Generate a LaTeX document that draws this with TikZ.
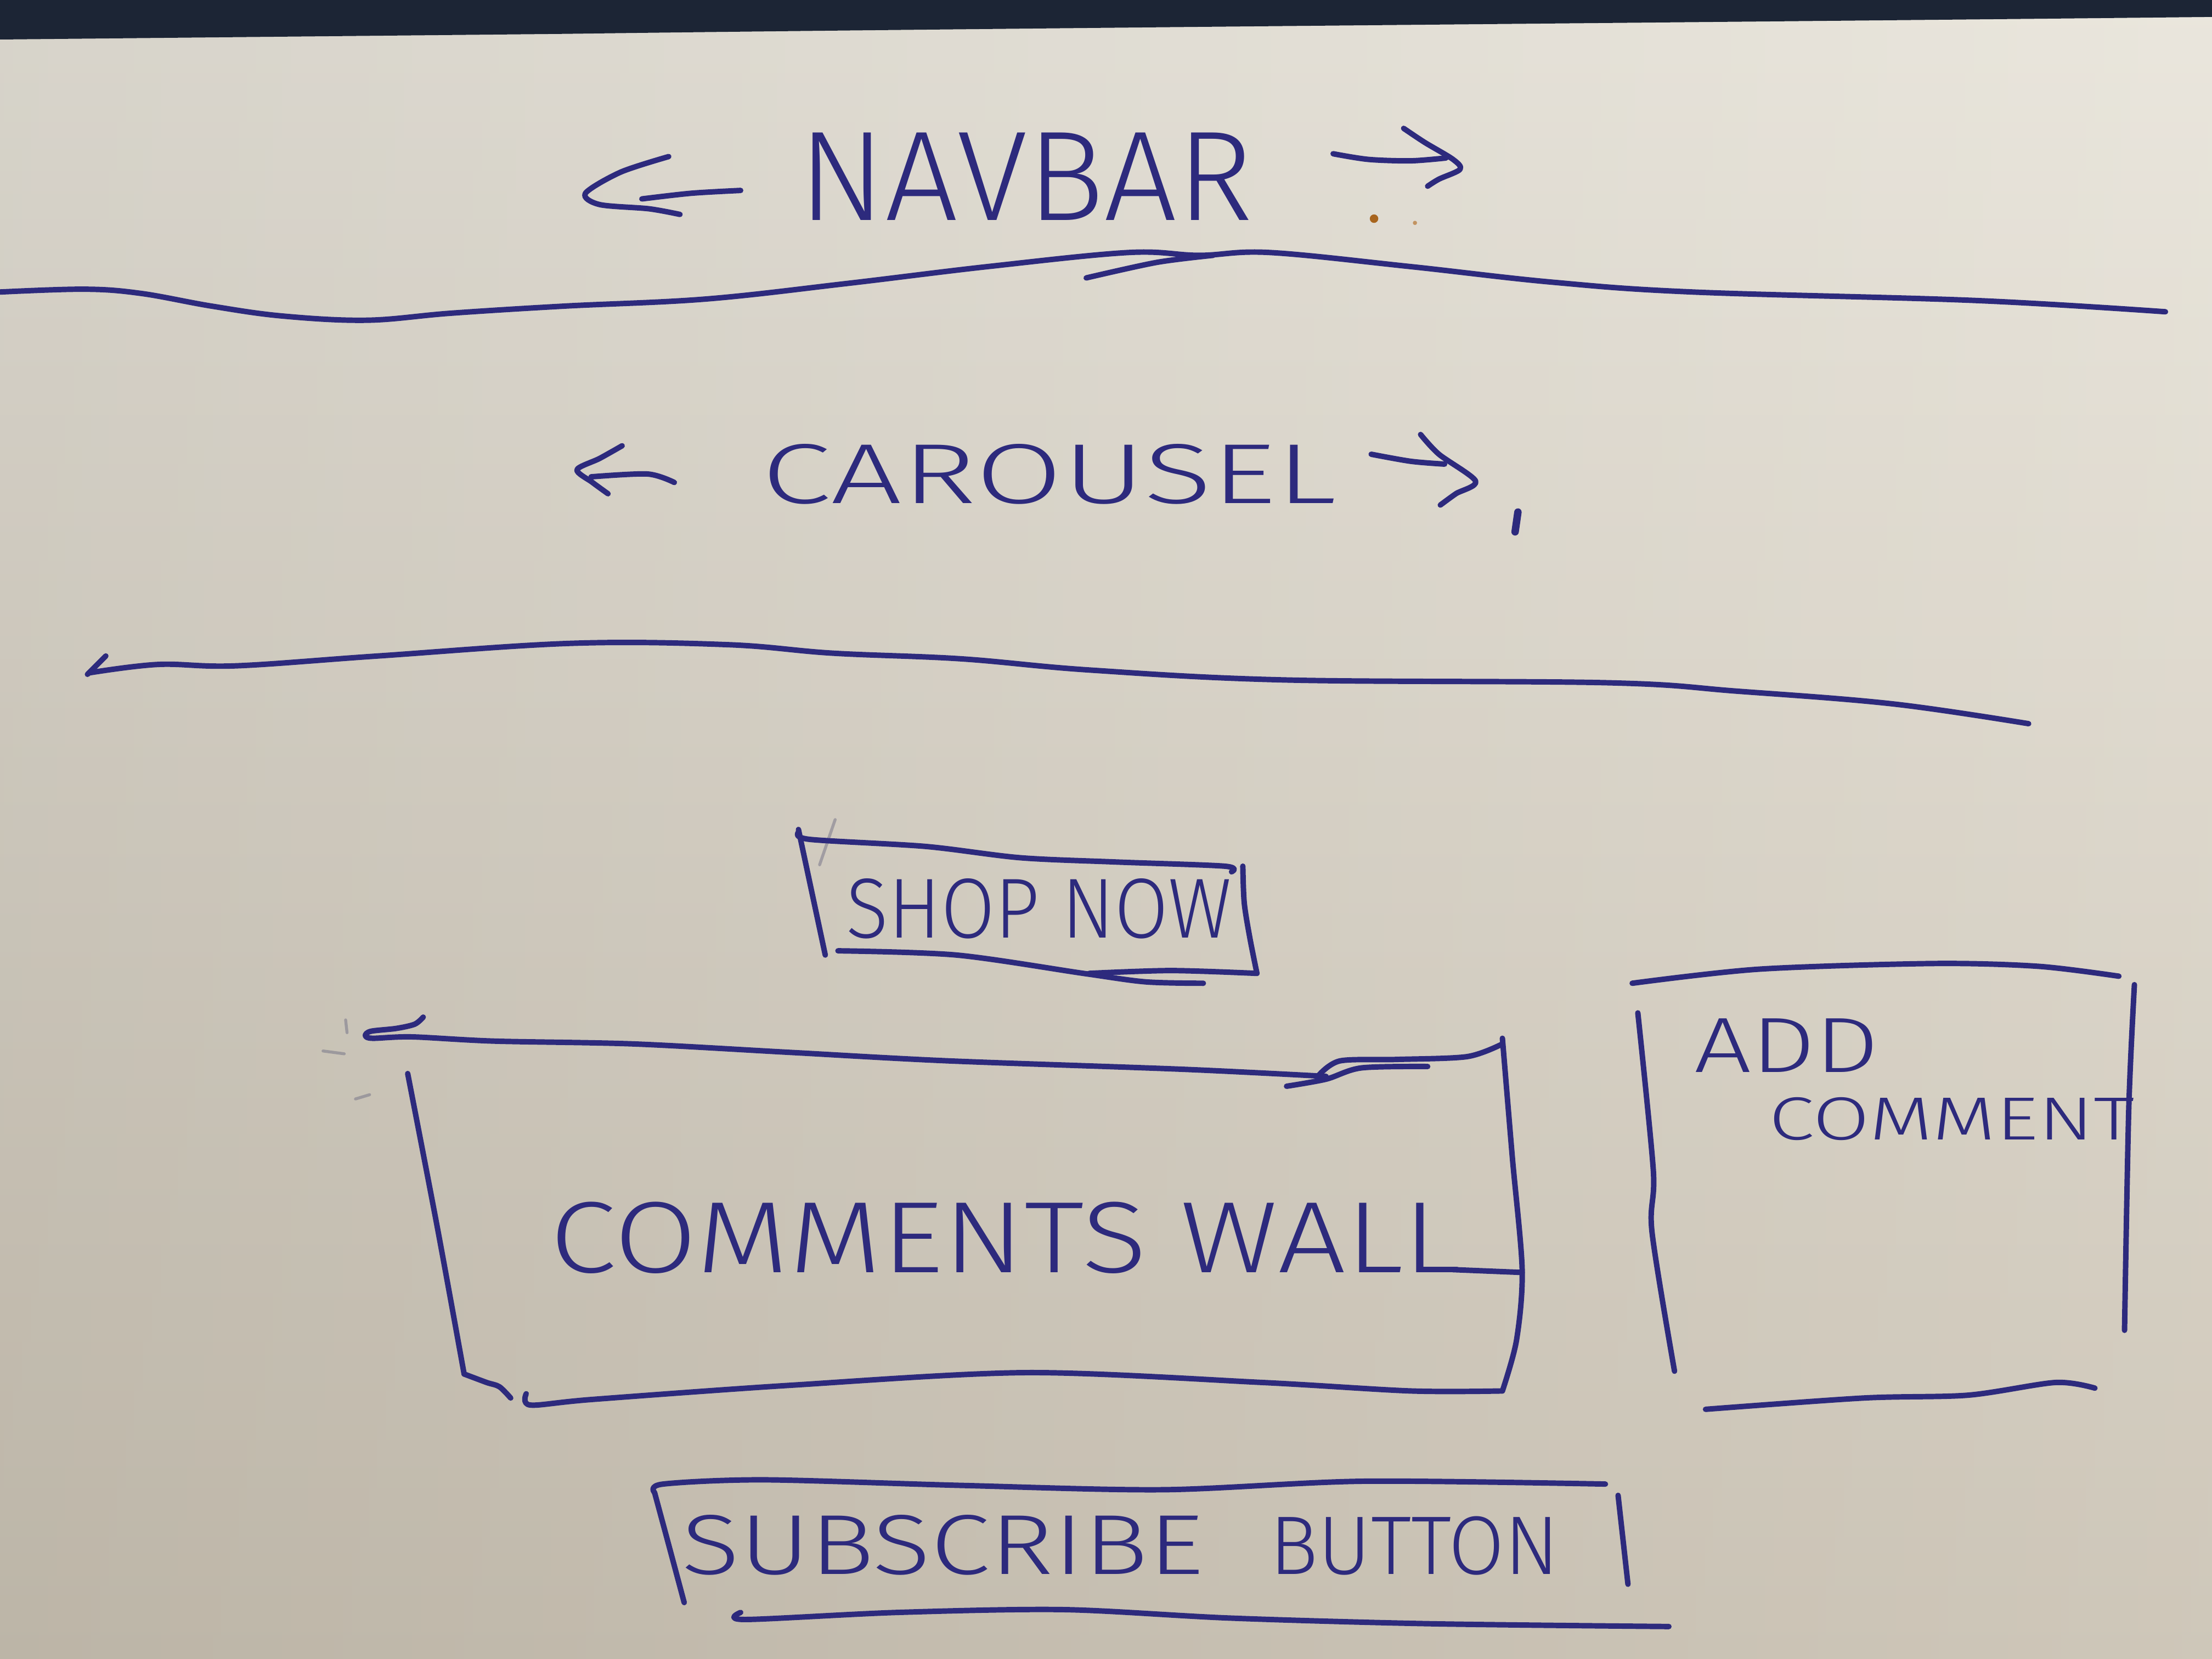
\documentclass[tikz,border=0pt]{standalone}
\usepackage{fontspec}
\setmainfont{Fira Sans Light}
\usepackage{graphicx}
\definecolor{inkc}{HTML}{2D2A7D}
\definecolor{papertop}{HTML}{E9E5DB}
\definecolor{papermid}{HTML}{DDD7CA}
\definecolor{paperbot}{HTML}{CBC3B4}
\definecolor{bandc}{HTML}{1C2535}
\definecolor{stainc}{HTML}{A8651E}
\newcommand\hw[3]{\resizebox{#1cm}{#2cm}{#3}}
\tikzset{
  ink/.style={draw=inkc, line width=1.1pt, line cap=round, line join=round},
  faint/.style={draw=gray!70!inkc, line width=0.6pt, line cap=round, opacity=0.45},
  lbl/.style={inner sep=0pt, outer sep=0pt, text=inkc, anchor=base west}
}
\begin{document}
\begin{tikzpicture}[x=0.01cm, y=-0.01cm]
\useasboundingbox (0,0) rectangle (1568,1176);
% paper
\begin{scope}[y=0.01cm]
\shade[top color=papertop, middle color=papermid, bottom color=paperbot] (0,0) rectangle (1568,-1176);
\shade[left color=black, right color=white, opacity=0.07] (0,0) rectangle (1568,-1176);
\end{scope}
% dark background band at the top
\fill[bandc] (0,0) -- (1568,0) -- (1568,12) .. controls (1200,16) and (700,20) .. (400,24) -- (0,28) -- cycle;
% stains
\fill[stainc] (974,155) circle (3);
\fill[stainc!70] (1003,158) circle (1.5);

% ---------- NAVBAR ----------
\node[lbl] (navbar) at (566,156) {\hw{3.22}{0.62}{NAVBAR}};
\draw[ink] plot[smooth] coordinates {(474,111) (440,122) (415,137) (425,145) (460,148) (482,152)};
\draw[ink] plot[smooth] coordinates {(455,141) (490,137) (525,135)};
\draw[ink] plot[smooth] coordinates {(945,109) (970,113) (1000,114) (1025,112)};
\draw[ink] plot[smooth] coordinates {(995,91) (1010,101) (1030,113) (1035,120) (1020,127) (1012,132)};
\draw[ink] plot[smooth, tension=0.6] coordinates {(0,207) (60,205) (100,208) (150,217) (200,224) (260,227) (320,222) (400,217) (500,212) (600,201) (700,189) (800,179) (850,181) (900,179) (1000,189) (1100,200) (1200,207) (1400,213) (1535,221)};
\draw[ink] plot[smooth] coordinates {(860,181) (820,186) (770,197)};

% ---------- CAROUSEL ----------
\node[lbl] (carousel) at (540,357) {\hw{4.07}{0.42}{CAROUSEL}};
\draw[ink] plot[smooth] coordinates {(441,316) (425,325) (409,333) (420,342) (431,350)};
\draw[ink] plot[smooth] coordinates {(419,338) (459,336) (478,342)};
\draw[ink] plot[smooth] coordinates {(972,322) (1000,327) (1024,329)};
\draw[ink] plot[smooth] coordinates {(1007,308) (1020,322) (1046,341) (1032,350) (1021,358)};
\draw[ink, line width=1.5pt] (1076,363) -- (1074,377);
\draw[ink] (62,478) -- (75,465);
\draw[ink] plot[smooth, tension=0.6] coordinates {(63,477) (112,471) (167,472) (268,465) (406,456) (516,457) (590,463) (681,467) (773,475) (911,482) (1140,484) (1232,490) (1342,499) (1438,513)};

% ---------- SHOP NOW ----------
\node[lbl] (shopnow) at (600,665) {\hw{2.73}{0.42}{SHOP NOW}};
\draw[faint] (592,581) -- (581,613);
\draw[ink] (566,588) -- (585,677);
\draw[ink] plot[smooth] coordinates {(566,590) (574,595) (656,600) (723,608) (790,611) (868,614) (873,618)};
\draw[ink] plot[smooth] coordinates {(881,614) (882,640) (886,665) (891,690)};
\draw[ink] plot[smooth] coordinates {(594,674) (678,677) (768,690) (812,696) (853,697)};
\draw[ink] plot[smooth] coordinates {(772,690) (830,688) (891,690)};

% ---------- COMMENTS WALL ----------
\node[lbl] (commentswall) at (390,902) {\hw{6.45}{0.50}{COMMENTS WALL}};
\draw[ink] (1030,900) -- (1079,902);
\draw[faint] (245,723) -- (246,732);
\draw[faint] (229,745) -- (244,747);
\draw[faint] (252,779) -- (262,776);
\draw[ink] plot[smooth, tension=0.5] coordinates {(300,721) (294,726) (281,729) (263,731) (259,734) (264,736) (292,735) (350,738) (449,740) (560,746) (672,752) (839,758) (940,763)};
\draw[ink] plot[smooth] coordinates {(912,770) (940,765) (965,757) (1012,756)};
\draw[ink] plot[smooth] coordinates {(935,762) (950,752) (990,751) (1040,749) (1065,740)};
\draw[ink] plot[smooth] coordinates {(1065,736) (1072,820) (1079,900) (1075,950) (1065,986)};
\draw[ink] plot[smooth] coordinates {(289,761) (310,870) (329,974)};
\draw[ink] plot[smooth] coordinates {(329,974) (345,980) (354,983) (362,991)};
\draw[ink] plot[smooth] coordinates {(373,988) (376,996) (420,992) (560,982) (728,973) (895,980) (1000,986) (1065,986)};

% ---------- ADD COMMENT ----------
\node[lbl] (add) at (1201,760) {\hw{1.31}{0.38}{ADD}};
\node[lbl] (comment) at (1254,808) {\hw{2.59}{0.30}{COMMENT}};
\draw[ink] plot[smooth] coordinates {(1157,697) (1247,687) (1371,683) (1445,685) (1502,692)};
\draw[ink] plot[smooth] coordinates {(1161,718) (1172,830) (1171,873) (1187,972)};
\draw[ink] plot[smooth] coordinates {(1513,698) (1509,786) (1506,943)};
\draw[ink] plot[smooth] coordinates {(1209,999) (1321,991) (1395,989) (1457,980) (1485,984)};

% ---------- SUBSCRIBE BUTTON ----------
\node[lbl] (subscribe) at (483,1116) {\hw{3.70}{0.42}{SUBSCRIBE}};
\node[lbl] (button) at (900,1116) {\hw{2.05}{0.41}{BUTTON}};
\draw[ink] plot[smooth] coordinates {(464,1058) (470,1052) (542,1049) (683,1053) (825,1056) (966,1050) (1138,1052)};
\draw[ink] plot[smooth] coordinates {(464,1058) (474,1095) (485,1136)};
\draw[ink] (1147,1060) -- (1154,1123);
\draw[ink] plot[smooth] coordinates {(525,1143) (528,1148) (636,1143) (754,1141) (872,1147) (1013,1151) (1183,1153)};
\end{tikzpicture}
\end{document}
